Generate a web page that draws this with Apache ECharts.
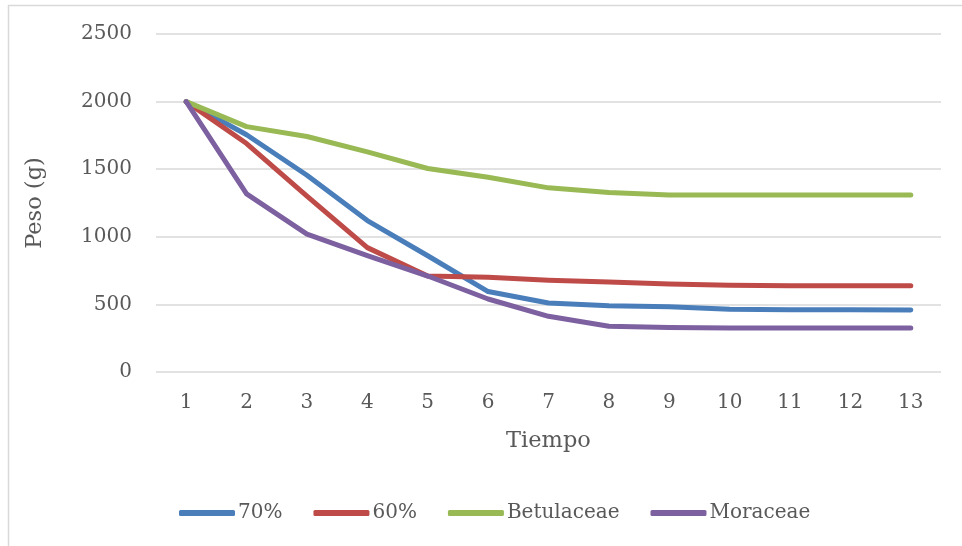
<!DOCTYPE html>
<html>
<head>
<meta charset="utf-8">
<script src="https://cdn.jsdelivr.net/npm/echarts@6/dist/echarts.min.js"></script>
<style>html,body{margin:0;padding:0;background:#fff;}#c{width:962px;height:546px;}</style>
</head>
<body>
<div id="c"></div>
<script>
var categories = ['1','2','3','4','5','6','7','8','9','10','11','12','13'];
var seriesNames = ['70%', '60%', 'Betulaceae', 'Moraceae'];
var s70 = [2000, 1755, 1455, 1120, 860, 595, 510, 490, 482, 465, 460, 460, 458];
var s60 = [2000, 1690, 1300, 920, 710, 700, 678, 665, 650, 642, 638, 638, 638];
var sBetulaceae = [2000, 1815, 1742, 1628, 1505, 1440, 1362, 1327, 1310, 1310, 1310, 1310, 1310];
var sMoraceae = [2000, 1317, 1020, 860, 710, 540, 412, 338, 330, 325, 325, 325, 325];
var colors = ['#4A7EBB', '#BE4B48', '#98B954', '#7D60A0'];

var font = 'DejaVu Serif';
var chart = echarts.init(document.getElementById('c'), null, {renderer: 'canvas'});
var datas = [s70, s60, sBetulaceae, sMoraceae];
chart.setOption({
  animation: false,
  color: colors,
  textStyle: {fontFamily: font, color: '#595959'},
  graphic: [{
    type: 'rect',
    shape: {x: 8.5, y: 5.5, width: 960, height: 560},
    style: {fill: 'none', stroke: '#d9d9d9', lineWidth: 1.5},
    silent: true
  }],
  grid: {left: 156, right: 21, top: 34, bottom: 174, containLabel: false},
  legend: {
    left: 174, top: 498,
    itemWidth: 56, itemHeight: 6, itemGap: 31,
    icon: 'roundRect',
    textStyle: {fontFamily: font, fontSize: 20, color: '#595959', padding: [0, 0, 0, -2]},
    data: seriesNames
  },
  xAxis: {
    type: 'category',
    data: categories,
    boundaryGap: true,
    name: 'Tiempo',
    nameLocation: 'middle',
    nameGap: 58,
    nameTextStyle: {fontFamily: font, fontSize: 22.5, color: '#595959'},
    axisLine: {show: false},
    axisTick: {show: false},
    axisLabel: {fontFamily: font, fontSize: 20, color: '#595959', margin: 21}
  },
  yAxis: {
    type: 'value',
    min: 0, max: 2500, interval: 500,
    name: 'Peso (g)',
    nameLocation: 'middle',
    nameGap: 109,
    nameTextStyle: {fontFamily: font, fontSize: 22.5, color: '#595959'},
    axisLine: {show: false},
    axisTick: {show: false},
    splitLine: {lineStyle: {color: '#d9d9d9', width: 1.5}},
    axisLabel: {fontFamily: font, fontSize: 20, color: '#595959', margin: 24,
      formatter: function (v) { return String(v); }}
  },
  series: seriesNames.map(function (n, i) {
    return {
      name: n,
      type: 'line',
      data: datas[i],
      showSymbol: false,
      symbol: 'none',
      lineStyle: {width: 5, cap: 'round', join: 'round', color: colors[i]},
      itemStyle: {color: colors[i]}
    };
  })
});
</script>
</body>
</html>
